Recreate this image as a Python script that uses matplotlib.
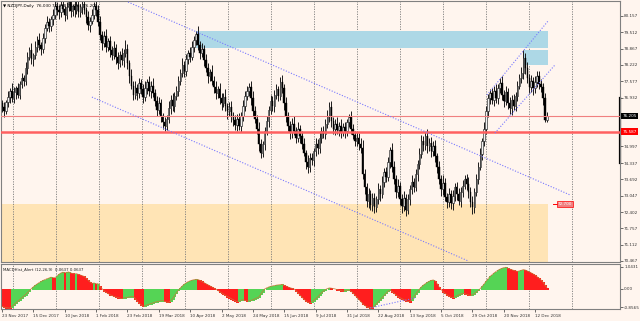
import numpy as np
import matplotlib
matplotlib.use('Agg')
import matplotlib.pyplot as plt
from matplotlib.patches import Rectangle

# NZDJPY daily, 23 Nov 2017 .. 20 Dec 2018
closes = [
    76.55, 76.40, 76.75, 76.95, 77.20, 76.90, 77.15, 77.30, 77.05, 77.45,
    77.70, 77.60, 78.10, 78.55, 78.80, 78.45, 78.60, 78.95, 79.20, 79.00,
    78.85, 79.30, 79.70, 79.90, 79.75, 80.05, 80.20, 80.55, 80.40, 80.30,
    80.60, 80.45, 80.20, 80.50, 80.70, 80.35, 80.55, 80.40, 80.60, 80.30,
    80.50, 80.65, 80.40, 80.10, 79.80, 79.95, 80.20, 80.55, 80.40, 79.90,
    79.40, 79.10, 79.35, 78.95, 79.15, 78.80, 78.60, 78.90, 78.55, 78.30,
    78.60, 78.40, 78.70, 78.85, 78.30, 77.80, 77.40, 77.05, 77.30, 77.10,
    77.50, 77.25, 76.95, 77.30, 77.55, 77.20, 77.40, 77.10, 76.80, 76.45,
    76.70, 76.20, 75.95, 75.80, 76.10, 76.50, 76.85, 76.60, 77.00, 77.20,
    77.60, 77.90, 78.20, 78.00, 78.45, 78.70, 78.55, 78.95, 79.20, 79.45,
    79.00, 78.70, 78.85, 78.40, 78.10, 77.80, 77.95, 77.60, 77.35, 77.10,
    77.25, 76.90, 76.70, 76.95, 76.60, 76.40, 76.55, 76.20, 76.05, 75.85,
    76.10, 75.80, 76.20, 76.60, 77.00, 77.20, 77.35, 76.90, 76.40, 76.10,
    75.70, 75.10, 74.75, 75.10, 75.60, 76.00, 76.45, 76.80, 76.60, 77.05,
    77.25, 77.00, 77.55, 77.30, 76.70, 76.20, 75.80, 75.55, 75.90, 75.60,
    75.35, 75.70, 75.40, 75.10, 74.75, 74.40, 74.20, 74.55, 74.45, 74.80,
    75.10, 74.95, 75.35, 75.60, 75.50, 75.90, 76.20, 76.55, 76.00, 75.70,
    75.90, 75.65, 75.80, 75.55, 75.75, 75.60, 75.95, 76.15, 75.70, 75.45,
    75.20, 75.35, 75.10, 74.95, 73.90, 73.40, 72.85, 73.10, 72.70, 72.95,
    72.60, 72.90, 73.30, 73.10, 73.60, 74.00, 73.80, 74.40, 74.85, 74.20,
    73.70, 73.20, 73.45, 72.90, 72.65, 72.95, 72.50, 72.90, 73.30, 73.60,
    73.40, 73.90, 74.30, 74.70, 75.20, 75.05, 75.40, 75.00, 75.15, 74.80,
    75.00, 74.60, 74.20, 73.70, 73.30, 73.55, 73.00, 72.80, 73.10, 72.75,
    73.05, 73.40, 73.10, 72.85, 73.20, 73.45, 73.70, 73.50, 73.20, 72.80,
    72.60, 73.20, 73.70, 74.20, 74.70, 75.20, 75.70, 76.40, 76.90, 77.10,
    76.85, 77.20, 76.90, 77.30, 77.50, 77.05, 76.80, 77.15, 76.70, 76.50,
    76.85, 76.60, 77.00, 77.40, 77.70, 77.90, 78.50, 78.10, 77.70, 77.35,
    77.60, 77.30, 77.55, 77.80, 77.45, 77.35, 76.90, 76.03, 76.205]
first_open = 76.70

# upper / lower shadows of each candle
wick_up = [
    .15, .20, .10, .25, .12, .30, .18, .10, .22, .15,
    .20, .12, .25, .18, .15, .30, .10, .22, .15, .28,
    .12, .20, .15, .25, .18, .10, .22, .30, .15, .20,
    .18, .25, .12, .20, .15, .28, .10, .22, .18, .25,
    .15, .20, .30, .12, .25, .18, .22, .15, .28, .20,
    .25, .15, .20, .30, .12, .22, .18, .25, .15, .20,
    .18, .28, .15, .35, .20, .12, .25, .18, .30, .15,
    .22, .15, .20, .28, .12, .25, .18, .30, .15, .20,
    .25, .18, .12, .22, .15, .30, .20, .25, .15, .18,
    .20, .15, .28, .18, .22, .12, .25, .20, .15, .12,
    .30, .18, .22, .15, .25, .20, .12, .28, .18, .22,
    .15, .25, .20, .18, .30, .12, .22, .25, .15, .20,
    .18, .22, .15, .25, .20, .18, .15, .22, .28, .20,
    .15, .25, .20, .12, .18, .22, .15, .25, .20, .18,
    .22, .15, .20, .28, .18, .25, .15, .20, .22, .30,
    .18, .25, .15, .20, .22, .12, .25, .18, .20, .15,
    .22, .18, .25, .15, .20, .18, .22, .20, .25, .15,
    .20, .25, .15, .30, .18, .22, .15, .12, .25, .20,
    .15, .22, .18, .25, .30, .20, .15, .25, .18, .22,
    .20, .15, .25, .18, .22, .15, .20, .18, .12, .30,
    .22, .18, .25, .15, .20, .28, .15, .22, .18, .25,
    .15, .20, .18, .22, .25, .20, .15, .28, .18, .22,
    .20, .25, .15, .22, .18, .30, .20, .15, .25, .18,
    .22, .15, .20, .25, .18, .22, .15, .20, .28, .18,
    .25, .15, .20, .18, .22, .15, .25, .20, .18, .15,
    .22, .18, .25, .15, .20, .28, .18, .22, .15, .25,
    .18, .22, .15, .20, .18, .25, .30, .20, .25, .18,
    .22, .15, .25, .20, .18, .22, .15, .20, .17]
wick_dn = [
    .20, .25, .12, .18, .22, .15, .20, .28, .12, .18,
    .15, .22, .18, .25, .12, .20, .28, .15, .22, .18,
    .25, .15, .20, .12, .22, .18, .25, .15, .20, .28,
    .20, .12, .25, .18, .15, .22, .20, .28, .15, .20,
    .18, .25, .15, .22, .20, .28, .12, .18, .25, .15,
    .20, .28, .15, .22, .18, .25, .20, .15, .30, .22,
    .15, .20, .25, .18, .22, .30, .15, .20, .18, .25,
    .20, .18, .25, .15, .22, .20, .28, .15, .20, .25,
    .18, .22, .25, .20, .15, .18, .22, .20, .25, .15,
    .22, .18, .15, .25, .20, .18, .22, .15, .20, .18,
    .20, .25, .18, .22, .15, .28, .20, .18, .25, .22,
    .18, .22, .25, .15, .20, .30, .18, .22, .25, .20,
    .25, .15, .22, .18, .20, .15, .22, .25, .20, .18,
    .22, .30, .20, .18, .25, .15, .22, .18, .20, .25,
    .18, .22, .15, .20, .25, .22, .18, .25, .20, .15,
    .22, .18, .25, .20, .15, .28, .25, .20, .18, .22,
    .18, .25, .20, .22, .15, .20, .18, .25, .22, .20,
    .25, .18, .22, .20, .15, .25, .20, .18, .22, .15,
    .20, .18, .25, .22, .20, .28, .25, .30, .20, .25,
    .22, .20, .18, .25, .15, .20, .22, .18, .25, .20,
    .18, .25, .20, .22, .28, .20, .25, .18, .22, .20,
    .22, .18, .25, .20, .15, .22, .18, .25, .20, .22,
    .18, .22, .25, .20, .28, .22, .18, .25, .20, .22,
    .25, .20, .22, .18, .25, .20, .15, .22, .25, .20,
    .28, .22, .18, .20, .15, .22, .18, .20, .25, .22,
    .18, .25, .20, .22, .18, .20, .25, .15, .22, .20,
    .25, .18, .22, .20, .15, .18, .22, .25, .20, .22,
    .20, .25, .18, .22, .20, .18, .25, .08, .07]

# MACD histogram
macd = [
    -0.80, -0.84, -0.87, -0.88, -0.89, -0.82, -0.74, -0.66, -0.58, -0.50,
    -0.42, -0.34, -0.26, -0.17, -0.08, 0.02, 0.10, 0.17, 0.24, 0.30,
    0.35, 0.40, 0.44, 0.48, 0.51, 0.55, 0.53, 0.52, 0.60, 0.68,
    0.74, 0.78, 0.76, 0.77, 0.79, 0.75, 0.72, 0.70, 0.71, 0.68,
    0.65, 0.62, 0.58, 0.50, 0.40, 0.32, 0.26, 0.28, 0.24, 0.25,
    0.12, 0.02, -0.08, -0.15, -0.21, -0.26, -0.30, -0.34, -0.37, -0.40,
    -0.42, -0.44, -0.42, -0.40, -0.39, -0.37, -0.36, -0.35, -0.45, -0.56,
    -0.66, -0.74, -0.80, -0.78, -0.74, -0.71, -0.68, -0.65, -0.62, -0.59,
    -0.57, -0.55, -0.54, -0.58, -0.61, -0.62, -0.55, -0.45, -0.32, -0.18,
    -0.06, 0.05, 0.14, 0.22, 0.29, 0.34, 0.38, 0.41, 0.43, 0.45,
    0.44, 0.40, 0.35, 0.30, 0.25, 0.20, 0.15, 0.10, 0.05, 0.00,
    -0.06, -0.12, -0.18, -0.24, -0.30, -0.35, -0.40, -0.45, -0.50, -0.55,
    -0.60, -0.56, -0.52, -0.50, -0.53, -0.56, -0.55, -0.53, -0.50, -0.46,
    -0.42, -0.38, -0.25, -0.12, 0.00, 0.05, 0.09, 0.12, 0.14, 0.16,
    0.18, 0.19, 0.20, 0.21, 0.17, 0.13, 0.09, 0.06, 0.03, 0.00,
    -0.08, -0.18, -0.28, -0.38, -0.47, -0.55, -0.62, -0.65, -0.60, -0.54,
    -0.46, -0.38, -0.28, -0.18, -0.10, -0.03, 0.02, 0.05, 0.04, 0.02,
    0.00, -0.03, -0.06, -0.08, -0.10, -0.08, -0.06, -0.05, -0.10, -0.18,
    -0.28, -0.38, -0.48, -0.58, -0.68, -0.76, -0.82, -0.86, -0.87, -0.88,
    -0.80, -0.70, -0.60, -0.50, -0.40, -0.30, -0.20, -0.10, -0.05, -0.12,
    -0.20, -0.28, -0.35, -0.40, -0.45, -0.50, -0.54, -0.58, -0.60, -0.50,
    -0.38, -0.25, -0.12, 0.00, 0.10, 0.18, 0.25, 0.31, 0.36, 0.40,
    0.42, 0.38, 0.25, 0.10, -0.02, -0.12, -0.20, -0.27, -0.33, -0.38,
    -0.40, -0.36, -0.32, -0.28, -0.24, -0.20, -0.22, -0.25, -0.28, -0.30,
    -0.27, -0.22, -0.15, -0.07, 0.02, 0.12, 0.24, 0.36, 0.48, 0.58,
    0.66, 0.74, 0.81, 0.87, 0.92, 0.96, 0.99, 1.01, 0.97, 0.93,
    0.90, 0.87, 0.84, 0.82, 0.84, 0.87, 0.90, 0.88, 0.84, 0.80,
    0.75, 0.70, 0.64, 0.57, 0.50, 0.42, 0.32, 0.18, 0.06]

date_labels = ['23 Nov 2017', '15 Dec 2017', '10 Jan 2018', '1 Feb 2018',
               '23 Feb 2018', '19 Mar 2018', '10 Apr 2018', '2 May 2018',
               '24 May 2018', '15 Jun 2018', '9 Jul 2018', '31 Jul 2018',
               '22 Aug 2018', '13 Sep 2018', '5 Oct 2018', '29 Oct 2018',
               '20 Nov 2018', '12 Dec 2018']
date_step = 16

price_ticks = [80.157, 79.512, 78.867, 78.222, 77.577, 76.932, 74.997,
               74.337, 73.692, 73.047, 72.402, 71.757, 71.112, 70.467]
macd_ticks = [1.0431, 0.0, -0.8565]
macd_tick_labels = ['1.0431', '0.00', '-0.8565']

bid = 76.205
support = 75.587
zone_level = 72.700

# zones: (first bar, last bar, low, high)
blue_zone = (99.0, 278.6, 78.89, 79.56)
blue_zone2 = (266.3, 278.6, 78.22, 78.83)
sand_zone = (-0.5, 278.6, 69.0, 72.72)

# trend lines: ((bar, price), (bar, price))
trend_lines = [((64.3, 80.71), (289.8, 73.08)),
               ((45.9, 76.95), (237.8, 70.47)),
               ((247.4, 77.03), (278.6, 79.96)),
               ((251.5, 75.53), (282.1, 78.22))]
macd_trend = ((187.8, -0.88), (210.7, -0.42))

title = '\u25bc NZDJPY,Daily  76.030 76.378 75.961 76.205'
macd_title = 'MACDHist_Alert (12,26,9)  0.0637 0.0637'

bg = '#FFF5EE'
frame = '#808080'
tl_color = '#7878FF'

fig = plt.figure(figsize=(6.4, 3.21), dpi=100, facecolor=bg)
ax = fig.add_axes([1/640, 59/321, 619/640, 261/321], facecolor=bg)
ax2 = fig.add_axes([1/640, 12/321, 619/640, 45/321], facecolor=bg)

c = np.array(closes)
o = np.r_[first_open, c[:-1]]
hi = np.maximum(o, c) + np.array(wick_up)
lo = np.minimum(o, c) - np.array(wick_dn)
x = np.arange(len(c))
up = c >= o

grid_x = np.arange(5.6, 300, 21.94)

################
#  price pane  #
################

ax.add_patch(Rectangle((sand_zone[0], sand_zone[2]), sand_zone[1] - sand_zone[0],
                       sand_zone[3] - sand_zone[2], fc='#FFE4B5', ec='none', zorder=0))
for gx in grid_x:
    ax.axvline(gx, color='#7a7a7a', lw=0.6, ls=(0, (1.5, 1.5)), zorder=1)
for z in (blue_zone, blue_zone2):
    ax.add_patch(Rectangle((z[0], z[2]), z[1] - z[0], z[3] - z[2],
                           fc='#ADD8E6', ec='none', zorder=1.5))

ax.vlines(x, lo, hi, color='#1a1a1a', lw=0.7, zorder=2)
ax.bar(x[up], (c - o)[up], bottom=o[up], width=0.75, color='#f2f2f2',
       edgecolor='#222222', lw=0.45, zorder=2.5)
ax.bar(x[~up], (o - c)[~up], bottom=c[~up], width=0.75, color='black',
       edgecolor='black', lw=0.3, zorder=2.5)

ax.axhline(bid, color='#F08080', lw=0.8, zorder=3)
ax.axhline(support, color='#FF6060', lw=1.8, zorder=3)

for (x0, y0), (x1, y1) in trend_lines:
    ax.plot([x0, x1], [y0, y1], color=tl_color, lw=0.8, ls=(0, (1, 1.5)), zorder=3)

ax.plot([281.0, 283.5], [sand_zone[3], sand_zone[3]], color='red', lw=0.7, zorder=3)
ax.text(283.7, sand_zone[3], '%.3f' % zone_level, fontsize=3, color='white',
        va='center', ha='left', zorder=4,
        bbox=dict(boxstyle='square,pad=0.2', fc='#F08080', ec='red', lw=0.5))

ax.set_xlim(-0.5, 315.3)
ax.set_ylim(70.427, 80.75)
ax.yaxis.tick_right()
ax.set_yticks(price_ticks)
ax.set_yticklabels(['%.3f' % v for v in price_ticks])
ax.tick_params(axis='y', labelsize=3, colors='#333333', length=2, width=0.5, pad=1)
ax.tick_params(axis='x', bottom=False, labelbottom=False)
for s in ax.spines.values():
    s.set_color(frame)
    s.set_linewidth(0.8)

ytr = ax.get_yaxis_transform()
ax.plot([1.0, 1.0], [76.93, 74.34], transform=ytr, color='black', lw=1.6, clip_on=False)
ax.text(1.004, bid, '%.3f' % bid, transform=ytr, fontsize=3, color='white', va='center',
        ha='left', bbox=dict(boxstyle='square,pad=0.25', fc='black', ec='none'), zorder=5)
ax.text(1.004, support, '%.3f' % support, transform=ytr, fontsize=3, color='white', va='center',
        ha='left', bbox=dict(boxstyle='square,pad=0.25', fc='red', ec='none'), zorder=5)

ax.text(0.004, 0.988, title, transform=ax.transAxes, fontsize=3, va='top', ha='left',
        color='black', zorder=6)

################
#  MACD pane   #
################

m = np.array(macd)
rising = np.r_[False, np.diff(m) > 0]
cols = np.where(rising, '#55D455', '#FF1E1E')
for gx in grid_x:
    ax2.axvline(gx, color='#7a7a7a', lw=0.6, ls=(0, (1.5, 1.5)), zorder=1)
ax2.vlines(x, 0, m, colors=cols, lw=0.9, antialiased=False, zorder=2)
ax2.plot(x, m, color='#C8783A', lw=0.5, zorder=3)
(mx0, my0), (mx1, my1) = macd_trend
ax2.plot([mx0, mx1], [my0, my1], color=tl_color, lw=0.8, ls=(0, (1, 1.5)), zorder=3)

ax2.set_xlim(-0.5, 315.3)
ax2.set_ylim(-0.93, 1.16)
ax2.yaxis.tick_right()
ax2.set_yticks(macd_ticks)
ax2.set_yticklabels(macd_tick_labels)
ax2.tick_params(axis='y', labelsize=3, colors='#333333', length=2, width=0.5, pad=1)
date_pos = np.arange(len(date_labels)) * date_step
ax2.set_xticks(date_pos)
ax2.set_xticklabels(date_labels, ha='left')
ax2.tick_params(axis='x', labelsize=3, colors='#333333', length=2, width=0.5, pad=1.5)
for s in ax2.spines.values():
    s.set_color(frame)
    s.set_linewidth(0.8)
ax2.text(0.004, 0.93, macd_title, transform=ax2.transAxes, fontsize=2.8, va='top',
         ha='left', color='#222222', zorder=6)

fig.savefig('out.png', dpi=100, facecolor=fig.get_facecolor())
